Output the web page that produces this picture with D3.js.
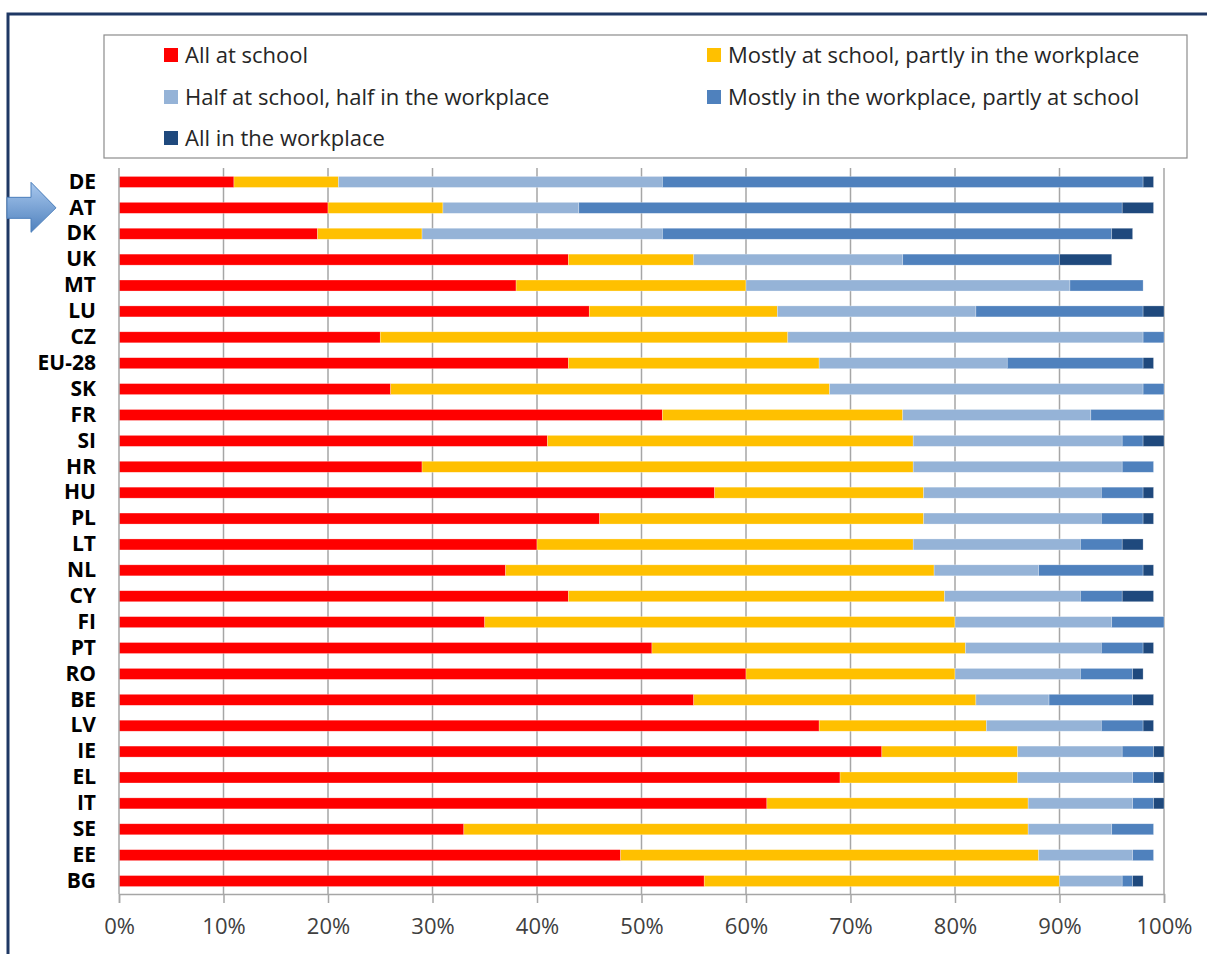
<!DOCTYPE html>
<html>
<head>
<meta charset="utf-8">
<script src="https://cdn.jsdelivr.net/npm/d3@7.9.0/dist/d3.min.js"></script>
<style>
  body { margin: 0; background: #fff; }
  svg { display: block; font-family: "Open Sans", sans-serif; }
</style>
</head>
<body>
<svg id="chart" width="1207" height="954"></svg>
<script>
// categories, top to bottom
const countries = ['DE', 'AT', 'DK', 'UK', 'MT', 'LU', 'CZ', 'EU-28', 'SK', 'FR', 'SI', 'HR', 'HU', 'PL',
  'LT', 'NL', 'CY', 'FI', 'PT', 'RO', 'BE', 'LV', 'IE', 'EL', 'IT', 'SE', 'EE', 'BG'];

const seriesNames = ['All at school', 'Mostly at school, partly in the workplace',
  'Half at school, half in the workplace', 'Mostly in the workplace, partly at school',
  'All in the workplace'];

// shares in %, one array per series, same order as countries
const allSchool    = [11, 20, 19, 43, 38, 45, 25, 43, 26, 52, 41, 29, 57, 46, 40, 37, 43, 35, 51, 60, 55, 67, 73, 69, 62, 33, 48, 56];
const mostlySchool = [10, 11, 10, 12, 22, 18, 39, 24, 42, 23, 35, 47, 20, 31, 36, 41, 36, 45, 30, 20, 27, 16, 13, 17, 25, 54, 40, 34];
const half         = [31, 13, 23, 20, 31, 19, 34, 18, 30, 18, 20, 20, 17, 17, 16, 10, 13, 15, 13, 12, 7, 11, 10, 11, 10, 8, 9, 6];
const mostlyWork   = [46, 52, 43, 15, 7, 16, 2, 13, 2, 7, 2, 3, 4, 4, 4, 10, 4, 5, 4, 5, 8, 4, 3, 2, 2, 4, 2, 1];
const allWork      = [1, 3, 2, 5, 0, 2, 0, 1, 0, 0, 2, 0, 1, 1, 2, 1, 3, 0, 1, 1, 2, 1, 1, 1, 1, 0, 0, 1];

const xTicks = [0, 10, 20, 30, 40, 50, 60, 70, 80, 90, 100];

const colors = ['#ff0000', '#ffc000', '#95b3d7', '#4f81bd', '#1f497d'];

const svg = d3.select('#chart');

// outer frame
svg.append('rect')
  .attr('x', 8).attr('y', 14).attr('width', 1230).attr('height', 980)
  .attr('fill', 'none').attr('stroke', '#1f3864').attr('stroke-width', 3);

// scales
const x = d3.scaleLinear().domain([0, 100]).range([119, 1164]);
const y = d3.scaleBand().domain(countries).range([169, 894])
  .paddingInner(0.575).paddingOuter(0.2875);

// gridlines
svg.append('g')
  .selectAll('line')
  .data(xTicks.slice(1))
  .join('line')
  .attr('x1', d => x(d)).attr('x2', d => x(d))
  .attr('y1', 168).attr('y2', 894)
  .attr('stroke', '#a6a6a6').attr('stroke-width', 1.5);

// stacked bars
const rows = countries.map((c, i) => ({
  country: c,
  s0: allSchool[i], s1: mostlySchool[i], s2: half[i], s3: mostlyWork[i], s4: allWork[i]
}));
const stack = d3.stack().keys(['s0', 's1', 's2', 's3', 's4']);
const layers = stack(rows);

svg.append('g')
  .selectAll('g')
  .data(layers)
  .join('g')
  .attr('fill', (d, i) => colors[i])
  .selectAll('rect')
  .data(d => d)
  .join('rect')
  .attr('x', d => x(d[0]))
  .attr('y', d => y(d.data.country))
  .attr('width', d => x(d[1]) - x(d[0]))
  .attr('height', y.bandwidth())
  .attr('stroke', 'rgba(255,255,255,0.45)')
  .attr('stroke-width', 0.6);

// x axis
const xAxis = d3.axisBottom(x)
  .tickValues(xTicks)
  .tickFormat(d => d + '%')
  .tickSize(9)
  .tickPadding(15);

const gx = svg.append('g')
  .attr('transform', 'translate(0,894)')
  .call(xAxis);
gx.select('.domain').attr('stroke', '#a6a6a6').attr('stroke-width', 1.5);
gx.selectAll('.tick line').attr('stroke', '#a6a6a6').attr('stroke-width', 1.5);
gx.selectAll('.tick text')
  .attr('fill', '#404040')
  .style('font-size', '22px')
  .style('font-family', '"Open Sans", sans-serif');

// y axis
const yAxis = d3.axisLeft(y).tickSize(0).tickPadding(23);
const gy = svg.append('g')
  .attr('transform', 'translate(119,0)')
  .call(yAxis);
gy.select('.domain').attr('stroke', '#a6a6a6').attr('stroke-width', 1.5)
  .attr('d', 'M0,168V894');
gy.selectAll('.tick text')
  .attr('fill', '#000')
  .style('font-size', '21px')
  .style('font-weight', 'bold')
  .style('font-family', '"Open Sans", sans-serif');

// legend
svg.append('rect')
  .attr('x', 104).attr('y', 35).attr('width', 1083).attr('height', 123)
  .attr('fill', '#fff').attr('stroke', '#8c8c8c').attr('stroke-width', 1.2);

const legendPos = [
  { x: 164, y: 55 }, { x: 707, y: 55 },
  { x: 164, y: 97 }, { x: 707, y: 97 },
  { x: 164, y: 138 }
];

const legendItems = svg.append('g')
  .selectAll('g')
  .data(seriesNames)
  .join('g')
  .attr('transform', (d, i) => `translate(${legendPos[i].x},${legendPos[i].y})`);

legendItems.append('rect')
  .attr('x', 0).attr('y', -7).attr('width', 14).attr('height', 14)
  .attr('fill', (d, i) => colors[i]);

legendItems.append('text')
  .attr('x', 21).attr('y', 0)
  .attr('dy', '0.35em')
  .attr('fill', '#262626')
  .style('font-size', '22px')
  .text(d => d);

// arrow pointing at AT
const defs = svg.append('defs');
const grad = defs.append('linearGradient')
  .attr('id', 'arrowGrad').attr('x1', 0).attr('y1', 0).attr('x2', 0).attr('y2', 1);
grad.append('stop').attr('offset', '0%').attr('stop-color', '#a9c8ee');
grad.append('stop').attr('offset', '100%').attr('stop-color', '#4f81bd');

const ay = y('AT') + y.bandwidth() / 2;
svg.append('path')
  .attr('d', `M7,${ay - 10.5}H31V${ay - 25.5}L56,${ay}L31,${ay + 24.5}V${ay + 10.5}H7Z`)
  .attr('fill', 'url(#arrowGrad)')
  .attr('stroke', '#4a7ebb').attr('stroke-width', 1);
</script>
</body>
</html>
